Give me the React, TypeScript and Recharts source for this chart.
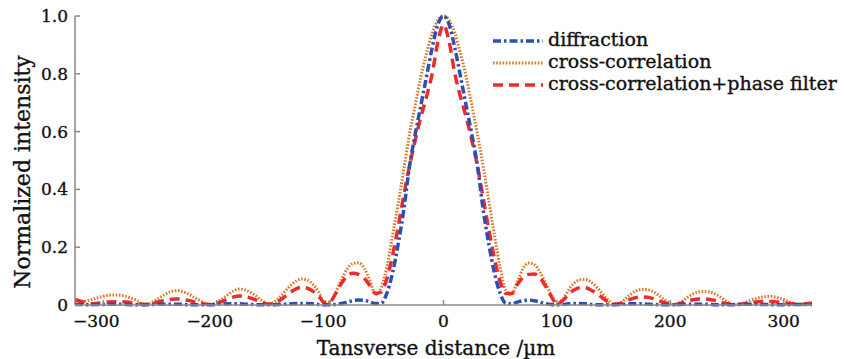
import React from 'react';
import { LineChart, Line, XAxis, YAxis } from 'recharts';

// transverse distance (µm), 5 µm grid
const distance = [
  -325, -320, -315, -310, -305, -300, -295, -290, -285, -280, -275, -270, -265, -260, -255, -250, -245,
  -240, -235, -230, -225, -220, -215, -210, -205, -200, -195, -190, -185, -180, -175, -170, -165,
  -160, -155, -150, -145, -140, -135, -130, -125, -120, -115, -110, -105, -100, -95, -90, -85,
  -80, -75, -70, -65, -60, -55, -50, -45, -40, -35, -30, -25, -20, -15, -10, -5,
  0,
  5, 10, 15, 20, 25, 30, 35, 40, 45, 50, 55, 60, 65, 70, 75, 80,
  85, 90, 95, 100, 105, 110, 115, 120, 125, 130, 135, 140, 145, 150, 155, 160,
  165, 170, 175, 180, 185, 190, 195, 200, 205, 210, 215, 220, 225, 230, 235, 240,
  245, 250, 255, 260, 265, 270, 275, 280, 285, 290, 295, 300, 305, 310, 315, 320, 325,
];

const diffraction = [
  0.002, 0.002, 0.001, 0.001, 0.002, 0.002, 0.003, 0.003, 0.003, 0.002, 0.001, 0.001, 0.001, 0.001, 0.002, 0.003, 0.003,
  0.003, 0.003, 0.002, 0.001, 0.001, 0.001, 0.001, 0.001, 0.002, 0.003, 0.004, 0.004, 0.004, 0.003, 0.002, 0.001,
  0.001, 0.001, 0.001, 0.002, 0.003, 0.004, 0.005, 0.005, 0.005, 0.004, 0.002, 0.001, 0.001, 0.002, 0.005, 0.01,
  0.015, 0.017, 0.016, 0.011, 0.005, 0.006, 0.04, 0.11, 0.21, 0.33, 0.48, 0.59, 0.69, 0.79, 0.89, 0.97,
  1.0,
  0.97, 0.89, 0.79, 0.69, 0.59, 0.48, 0.33, 0.21, 0.11, 0.04, 0.006, 0.004, 0.01, 0.015, 0.017, 0.015,
  0.01, 0.005, 0.002, 0.001, 0.002, 0.004, 0.005, 0.005, 0.004, 0.002, 0.001, 0.001, 0.001, 0.001, 0.002, 0.003,
  0.004, 0.004, 0.004, 0.003, 0.002, 0.001, 0.001, 0.001, 0.001, 0.002, 0.003, 0.003, 0.003, 0.003, 0.002, 0.001,
  0.001, 0.001, 0.001, 0.002, 0.003, 0.003, 0.003, 0.002, 0.002, 0.001, 0.001, 0.001, 0.001, 0.002, 0.002, 0.002, 0.002,
];

const crossCorrelation = [
  0.008, 0.01, 0.014, 0.019, 0.025, 0.03, 0.034, 0.035, 0.034, 0.03, 0.023, 0.014, 0.004, 0.005, 0.014, 0.026, 0.038,
  0.047, 0.05, 0.046, 0.038, 0.027, 0.016, 0.006, 0.002, 0.01, 0.022, 0.036, 0.049, 0.055, 0.052, 0.043, 0.03,
  0.015, 0.003, 0.008, 0.025, 0.046, 0.067, 0.083, 0.09, 0.086, 0.07, 0.045, 0.01, 0.012, 0.045, 0.088, 0.125,
  0.143, 0.146, 0.128, 0.085, 0.036, 0.06, 0.13, 0.24, 0.35, 0.47, 0.59, 0.69, 0.79, 0.87, 0.94, 0.985,
  1.0,
  0.985, 0.94, 0.87, 0.79, 0.69, 0.59, 0.48, 0.36, 0.24, 0.13, 0.05, 0.036, 0.08, 0.125, 0.145, 0.14,
  0.115, 0.075, 0.035, 0.003, 0.02, 0.05, 0.075, 0.087, 0.088, 0.08, 0.062, 0.04, 0.018, 0.003, 0.005, 0.02,
  0.037, 0.049, 0.054, 0.053, 0.046, 0.033, 0.018, 0.005, 0.002, 0.012, 0.026, 0.038, 0.045, 0.047, 0.045, 0.037,
  0.025, 0.012, 0.002, 0.002, 0.007, 0.015, 0.022, 0.027, 0.029, 0.029, 0.025, 0.019, 0.011, 0.005, 0.002, 0.004, 0.008,
];

const crossCorrelationPhase = [
  0.018, 0.013, 0.007, 0.004, 0.006, 0.008, 0.01, 0.011, 0.011, 0.01, 0.008, 0.005, 0.002, 0.003, 0.007, 0.012, 0.017,
  0.02, 0.021, 0.019, 0.016, 0.011, 0.007, 0.003, 0.002, 0.006, 0.013, 0.021, 0.028, 0.031, 0.029, 0.024, 0.017,
  0.009, 0.003, 0.005, 0.015, 0.029, 0.044, 0.056, 0.061, 0.058, 0.047, 0.03, 0.008, 0.012, 0.04, 0.075, 0.1,
  0.11, 0.106, 0.093, 0.068, 0.04, 0.045, 0.09, 0.17, 0.27, 0.38, 0.48, 0.57, 0.65, 0.72, 0.8, 0.91,
  0.97,
  0.91, 0.8, 0.72, 0.65, 0.57, 0.48, 0.37, 0.26, 0.16, 0.08, 0.04, 0.04, 0.07, 0.095, 0.106, 0.107,
  0.095, 0.065, 0.03, 0.004, 0.015, 0.035, 0.052, 0.06, 0.06, 0.052, 0.04, 0.025, 0.011, 0.003, 0.004, 0.012,
  0.02, 0.026, 0.028, 0.027, 0.022, 0.015, 0.008, 0.003, 0.002, 0.007, 0.013, 0.018, 0.021, 0.021, 0.019, 0.015,
  0.009, 0.004, 0.002, 0.002, 0.004, 0.007, 0.01, 0.012, 0.012, 0.012, 0.01, 0.007, 0.005, 0.003, 0.002, 0.004, 0.008,
];

const xTicks = [-300, -200, -100, 0, 100, 200, 300];
const yTicks = [0, 0.2, 0.4, 0.6, 0.8, 1.0];

const data = distance.map((x, i) => ({
  x,
  diffraction: diffraction[i],
  crossCorrelation: crossCorrelation[i],
  crossCorrelationPhase: crossCorrelationPhase[i],
}));

const FONT = '"DejaVu Serif", "Liberation Serif", serif';
const AXIS = '#8a8a8a';
const INK = '#111';

const SERIES = [
  { key: 'diffraction', name: 'diffraction', color: '#2C4FB4', dash: '8 3 2.5 3', width: 3.5 },
  { key: 'crossCorrelation', name: 'cross-correlation', color: '#D9782A', dash: '1.6 1.6', width: 3 },
  { key: 'crossCorrelationPhase', name: 'cross-correlation+phase filter', color: '#EE2B2B', dash: '10 6', width: 3.5 },
];

// draw order: dotted first, diffraction on top
const DRAW_ORDER = ['crossCorrelation', 'crossCorrelationPhase', 'diffraction'];

const fmtY = (v: number) => (v === 0 ? '0' : v.toFixed(1));

// negative labels are centred on their digits, like the original
const XTick = (props: any) => {
  const { x, y, payload } = props;
  const v = payload.value as number;
  const label = v < 0 ? '\u2212' + Math.abs(v) : String(v);
  return (
    <text
      x={x + (v < 0 ? -7 : 0)}
      y={y}
      dy="0.71em"
      textAnchor="middle"
      fontFamily={FONT}
      fontSize={17}
      fill={INK}
      stroke={INK}
      strokeWidth={0.35}
    >
      {label}
    </text>
  );
};

export default function App() {
  return (
    <div style={{ position: 'absolute', left: 0, top: 0, width: 845, height: 359, background: '#fff' }}>
      <LineChart width={845} height={359} data={data} margin={{ top: 16, right: 33, bottom: 4, left: 15 }}>
        <XAxis
          dataKey="x"
          type="number"
          domain={[-325, 325]}
          ticks={xTicks}
          height={50}
          stroke={AXIS}
          strokeWidth={1.5}
          tickSize={-5}
          tickMargin={15}
          tick={<XTick />}
          allowDataOverflow
        />
        <YAxis
          type="number"
          domain={[0, 1]}
          ticks={yTicks}
          tickFormatter={fmtY}
          width={60}
          stroke={AXIS}
          strokeWidth={1.5}
          tickSize={-5}
          tickMargin={12}
          tick={{ fill: INK, stroke: INK, strokeWidth: 0.35, fontSize: 17, fontFamily: FONT }}
        />
        {DRAW_ORDER.map((k) => {
          const s = SERIES.find((d) => d.key === k)!;
          return (
            <Line
              key={s.key}
              dataKey={s.key}
              name={s.name}
              type="monotone"
              stroke={s.color}
              strokeWidth={s.width}
              strokeDasharray={s.dash}
              dot={false}
              activeDot={false}
              isAnimationActive={false}
            />
          );
        })}
      </LineChart>

      {/* labels + legend overlay */}
      <svg width={845} height={359} style={{ position: 'absolute', left: 0, top: 0, pointerEvents: 'none' }}>
        <text
          x={0}
          y={0}
          transform="translate(30, 172) rotate(-90)"
          textAnchor="middle"
          fontFamily={FONT}
          fontSize={22}
          fill={INK}
          stroke={INK}
          strokeWidth={0.35}
        >
          Normalized intensity
        </text>
        <text
          x={436}
          y={355}
          textAnchor="middle"
          fontFamily={FONT}
          fontSize={20}
          fill={INK}
          stroke={INK}
          strokeWidth={0.35}
        >
          Tansverse distance /µm
        </text>
        {SERIES.map((s, i) => (
          <g key={s.key}>
            <line
              x1={493}
              x2={543}
              y1={41 + i * 22}
              y2={41 + i * 22}
              stroke={s.color}
              strokeWidth={s.width}
              strokeDasharray={s.dash}
            />
            <text
              x={548}
              y={46 + i * 22}
              fontFamily={FONT}
              fontSize={19}
              fill={INK}
              stroke={INK}
              strokeWidth={0.35}
            >
              {s.name}
            </text>
          </g>
        ))}
      </svg>
    </div>
  );
}
